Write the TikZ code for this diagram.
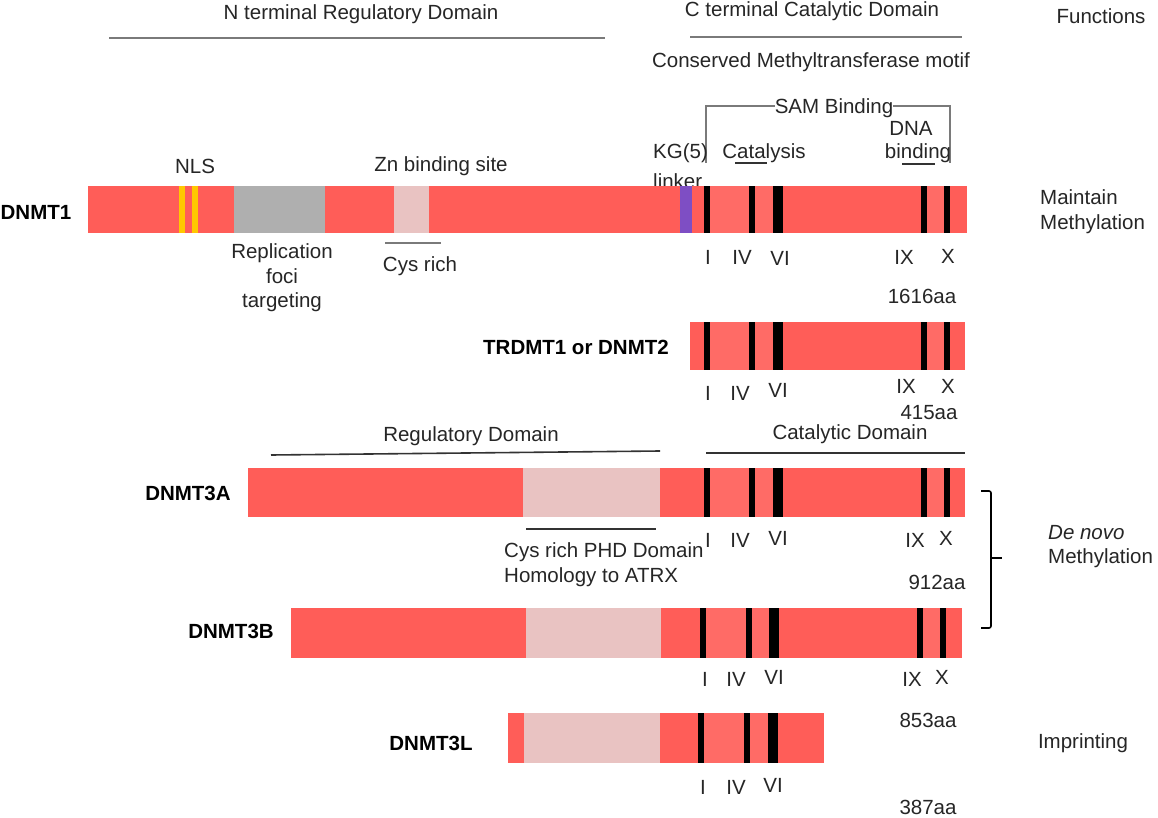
\documentclass[tikz,border=0pt]{standalone}
\usepackage{fontspec}
\setmainfont{Liberation Sans}
\definecolor{barred}{HTML}{FF5D58}
\definecolor{barlight}{HTML}{FF6B66}
\definecolor{pinkd}{HTML}{E9C3C2}
\definecolor{grayd}{HTML}{AFAFAF}
\definecolor{purp}{HTML}{7E4EC4}
\definecolor{yel}{HTML}{FFC800}
\definecolor{linegray}{HTML}{7A7A7A}
\definecolor{txt}{HTML}{262626}
\newcommand\mtf[4]{\fill[black] ({#1-#4/2},#2) rectangle ({#1+#4/2},#3);}
\begin{document}
\begin{tikzpicture}[x=1pt,y=-1pt,
  every node/.style={font=\fontsize{20.5}{24}\selectfont, inner sep=0pt, text=txt},
  bold/.style={font=\fontsize{20.5}{24}\selectfont\bfseries, text=black},
  lft/.style={anchor=west},
  domline/.style={draw=linegray, line width=2pt},
  darkline/.style={draw=black!80, line width=2pt},
  brk/.style={draw=linegray, line width=1.8pt}]
\useasboundingbox[fill=white] (0,0) rectangle (1158,818);

% ---------- top headings ----------
\node (nterm) at (361,14) {N terminal Regulatory Domain};
\draw[domline] (109,38) -- (605,38);
\node (cterm) at (812,11) {C terminal Catalytic Domain};
\draw[domline] (690,37) -- (962,37);
\node (func) at (1101,16) {Functions};
\node (cons) at (811,62) {Conserved Methyltransferase motif};

% SAM binding bracket
\node (sam) at (834,108) {SAM Binding};
\draw[brk] (706,163) -- (706,106) -- (sam.west |- 0,106);
\draw[brk] (sam.east |- 0,106) -- (950,106) -- (950,163);
\node (dna) at (911,128) {DNA};
\node (bind) at (918,153) {binding};
\draw[darkline, line width=1.5pt] (902,164) -- (935,164);
\node (cat) at (764,153) {Catalysis};
\draw[darkline, line width=1.5pt] (735,163) -- (767,163);
\node[lft] (kg) at (653,153) {KG(5)};
\node[lft] (link) at (653,181) {linker};

% ---------- DNMT1 ----------
\node[bold] (d1) at (36,212) {DNMT1};
\fill[barred] (88,186) rectangle (967,233);
\fill[barlight] (707,186) rectangle (778,233);
\fill[barlight] (924,186) rectangle (947,233);
\fill[yel] (179,186) rectangle (185,233);
\fill[yel] (192,186) rectangle (198,233);
\fill[grayd] (234,186) rectangle (325,233);
\fill[pinkd] (394,186) rectangle (429,233);
\fill[purp] (680,186) rectangle (692,233);
\mtf{707}{186}{233}{6}\mtf{752}{186}{233}{6}\mtf{778}{186}{233}{10}\mtf{924}{186}{233}{6}\mtf{947}{186}{233}{6}
\node (nls) at (195,166) {NLS};
\node (zn) at (441,166) {Zn binding site};
\node[align=center] (rep) at (282,278) {Replication\\[0.5pt]foci\\[0.5pt]targeting};
\draw[domline] (385,243) -- (441,243);
\node (cys1) at (420,266) {Cys rich};
\node (i1) at (708,257) {I};
\node (iv1) at (742,257) {IV};
\node (vi1) at (780,258) {VI};
\node (ix1) at (904,257) {IX};
\node (x1) at (948,256) {X};
\node (aa1) at (922,296) {1616aa};
\node[lft,align=left] (maint) at (1040,212) {Maintain\\[1pt]Methylation};

% ---------- TRDMT1 ----------
\node[bold] (d2) at (576,347) {TRDMT1 or DNMT2};
\fill[barred] (690,322) rectangle (965,370);
\fill[barlight] (707,322) rectangle (778,370);
\fill[barlight] (924,322) rectangle (947,370);
\mtf{707}{322}{370}{6}\mtf{752}{322}{370}{6}\mtf{778}{322}{370}{10}\mtf{924}{322}{370}{6}\mtf{947}{322}{370}{6}
\node (i2) at (708,393) {I};
\node (iv2) at (740,393) {IV};
\node (vi2) at (778,390) {VI};
\node (ix2) at (906,386) {IX};
\node (x2) at (948,386) {X};
\node (aa2) at (929,413) {415aa};

% ---------- DNMT3 headings ----------
\node (reg) at (471,436) {Regulatory Domain};
\draw[darkline, line width=1.6pt] (271,455) -- (660,451);
\node (catd) at (850,434) {Catalytic Domain};
\draw[darkline, line width=1.6pt] (706,453) -- (965,453);

% ---------- DNMT3A ----------
\node[bold] (d3a) at (188,493) {DNMT3A};
\fill[barred] (248,468) rectangle (965,517);
\fill[pinkd] (523,468) rectangle (660,517);
\fill[barlight] (707,468) rectangle (778,517);
\fill[barlight] (924,468) rectangle (947,517);
\mtf{707}{468}{517}{6}\mtf{752}{468}{517}{6}\mtf{778}{468}{517}{10}\mtf{924}{468}{517}{6}\mtf{947}{468}{517}{6}
\draw[darkline, line width=1.6pt] (526,529) -- (656,529);
\node[lft] (phd) at (504,552) {Cys rich PHD Domain};
\node[lft] (atrx) at (504,577) {Homology to ATRX};
\node (i3) at (708,540) {I};
\node (iv3) at (740,540) {IV};
\node (vi3) at (778,538) {VI};
\node (ix3) at (915,540) {IX};
\node (x3) at (946,538) {X};
\node (aa3) at (937,582) {912aa};

% brace
\draw[black, line width=1.6pt, rounded corners=2pt] (981,491) -- (991,491) -- (991,628) -- (981,628);
\draw[black, line width=1.6pt] (991,558) -- (1002,558);
\node[lft] (denovo) at (1048,533) {\itshape De novo};
\node[lft] (meth3) at (1048,558) {Methylation};

% ---------- DNMT3B ----------
\node[bold] (d3b) at (231,631) {DNMT3B};
\fill[barred] (291,608) rectangle (962,658);
\fill[pinkd] (526,608) rectangle (661,658);
\fill[barlight] (703,608) rectangle (774,658);
\fill[barlight] (920,608) rectangle (943,658);
\mtf{703}{608}{658}{6}\mtf{749}{608}{658}{6}\mtf{774}{608}{658}{10}\mtf{920}{608}{658}{6}\mtf{943}{608}{658}{6}
\node (i4) at (705,679) {I};
\node (iv4) at (736,679) {IV};
\node (vi4) at (774,677) {VI};
\node (ix4) at (912,679) {IX};
\node (x4) at (942,677) {X};
\node (aa4) at (928,720) {853aa};

% ---------- DNMT3L ----------
\node[bold] (d3l) at (431,743) {DNMT3L};
\fill[barred] (508,713) rectangle (824,763);
\fill[pinkd] (524,713) rectangle (660,763);
\fill[barlight] (701,713) rectangle (773,763);
\mtf{701}{713}{763}{6}\mtf{747}{713}{763}{6}\mtf{773}{713}{763}{10}
\node (i5) at (703,787) {I};
\node (iv5) at (736,787) {IV};
\node (vi5) at (773,785) {VI};
\node (aa5) at (928,807) {387aa};
\node (impr) at (1083,743) {Imprinting};
\end{tikzpicture}
\end{document}
